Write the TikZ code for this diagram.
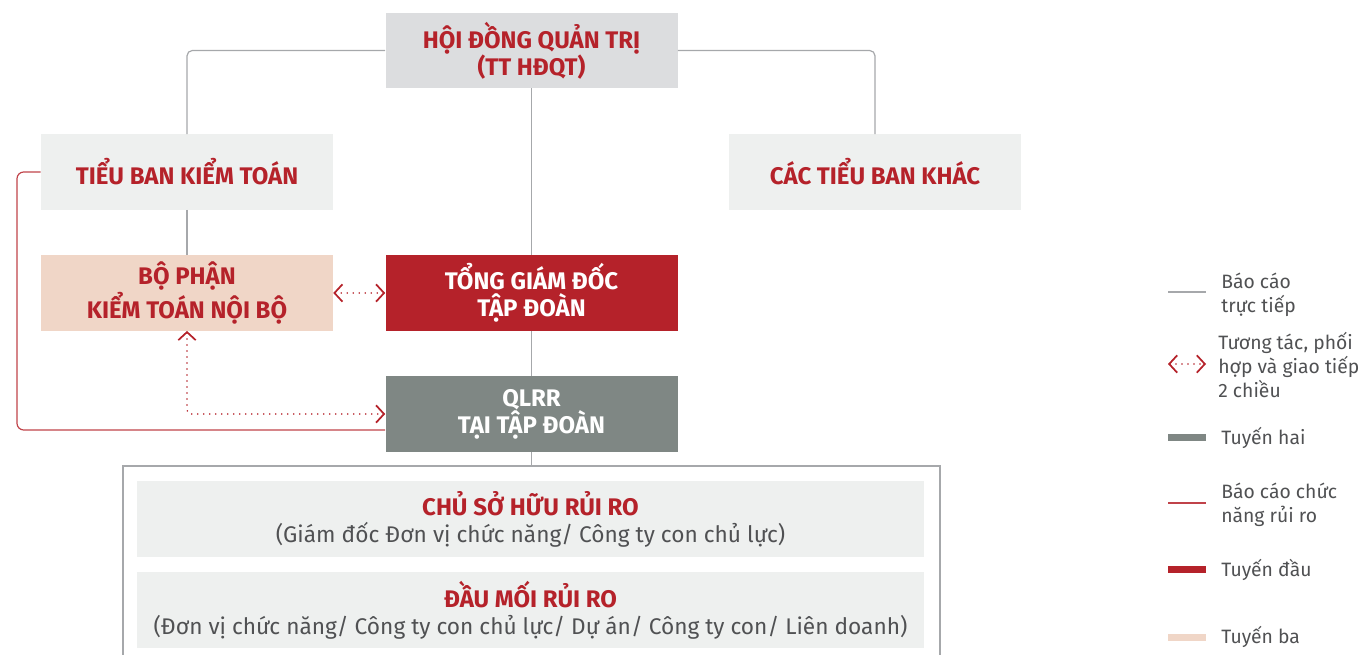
\documentclass[tikz,border=0pt]{standalone}
\usepackage{fontspec}
\setmainfont{Fira Sans}
\usetikzlibrary{arrows.meta,positioning,calc}
\definecolor{brandred}{HTML}{B5222A}
\definecolor{boardgray}{HTML}{DCDDDF}
\definecolor{panel}{HTML}{EEF0EF}
\definecolor{peach}{HTML}{F0D6C7}
\definecolor{slate}{HTML}{7F8784}
\definecolor{wire}{HTML}{A6A8AB}
\definecolor{inkgray}{HTML}{505153}
\newcommand{\subtxt}[1]{{\normalfont\fontsize{17}{19.5}\selectfont\color{inkgray}#1}}
\tikzset{unit/.style={fill=panel,text=brandred,align=center,font=\bfseries\fontsize{18}{20.3}\selectfont,minimum width=219pt,minimum height=56.5pt,inner sep=0pt}, wide/.style={unit,minimum width=590pt}, report/.style={draw=wire,line width=0.9pt,rounded corners=4pt}, riskline/.style={draw=brandred!85,line width=0.9pt,rounded corners=5pt}, talk/.style={{Straight Barb[length=6pt,width=13pt]}-{Straight Barb[length=6pt,width=13pt]},draw=brandred,line width=1.3pt,dash pattern=on 0pt off 4.5pt,line cap=round}, key/.style={anchor=west,align=left,text=inkgray,font=\fontsize{14.5}{18}\selectfont,inner sep=0pt}}

\begin{document}
\begin{tikzpicture}[x=0.75pt,y=-0.75pt]
\useasboundingbox (0,0) rectangle (1367,655);
% units
\node[unit,fill=boardgray] (hdqt) at (531.5,50.5) {HỘI ĐỒNG QUẢN TRỊ\\(TT HĐQT)};
\node[unit] (tbkt) at (187,172) {TIỂU BAN KIỂM TOÁN};
\node[unit] (tbk) at (875,172) {CÁC TIỂU BAN KHÁC};
\node[unit,fill=peach] (ktnb) at (187,293) {BỘ PHẬN\\KIỂM TOÁN NỘI BỘ};
\node[unit,fill=brandred,text=white] (tgd) at (531.5,293) {TỔNG GIÁM ĐỐC\\TẬP ĐOÀN};
\node[unit,fill=slate,text=white] (qlrr) at (531.5,414) {QLRR\\TẠI TẬP ĐOÀN};
\coordinate (frametop) at (531.5,466);
\draw[draw=wire,line width=0.8pt] (123,655) |- (940,466) -- (940,655);
\node[wide] (cshrr) at (530.5,519) {CHỦ SỞ HỮU RỦI RO\\\subtxt{(Giám đốc Đơn vị chức năng/ Công ty con chủ lực)}};
\node[wide] (dmrr) at (530.5,610) {ĐẦU MỐI RỦI RO\\\subtxt{(Đơn vị chức năng/ Công ty con chủ lực/ Dự án/ Công ty con/ Liên doanh)}};
% links
\draw[report] (hdqt.west) -| (tbkt.north);
\draw[report] (hdqt.east) -| (tbk.north);
\draw[report] (hdqt.south) -- (tgd.north);
\draw[report] (tbkt.south) -- (ktnb.north);
\draw[report] (tgd.south) -- (qlrr.north);
\draw[report] (qlrr.south) -- (frametop);
\coordinate (riskbend) at (17,430);
\draw[riskline] (tbkt.west) -| (riskbend) -- (qlrr.west |- riskbend);
\draw[talk] (ktnb.east) -- (tgd.west);
\draw[talk,rounded corners=3pt] (ktnb.south) |- (qlrr.west);
% legend
\draw[draw=wire,line width=1pt] (1168,292) -- (1206,292);
\node[key] (lg1) at (1221,295) {Báo cáo\\trực tiếp};
\draw[talk] (1168,364) -- (1206,364);
\node[key] (lg2) at (1218,365) {Tương tác, phối\\hợp và giao tiếp\\2 chiều};
\draw[draw=slate,line width=5.25pt] (1168,438) -- (1206,438);
\node[key] (lg3) at (1221,438) {Tuyến hai};
\draw[draw=brandred!85,line width=1pt] (1168,503) -- (1206,503);
\node[key] (lg4) at (1221,505) {Báo cáo chức\\năng rủi ro};
\draw[draw=brandred,line width=5.25pt] (1168,569) -- (1206,569);
\node[key] (lg5) at (1221,570) {Tuyến đầu};
\draw[draw=peach,line width=5.25pt] (1168,637) -- (1206,637);
\node[key] (lg6) at (1221,637) {Tuyến ba};
\end{tikzpicture}
\end{document}
